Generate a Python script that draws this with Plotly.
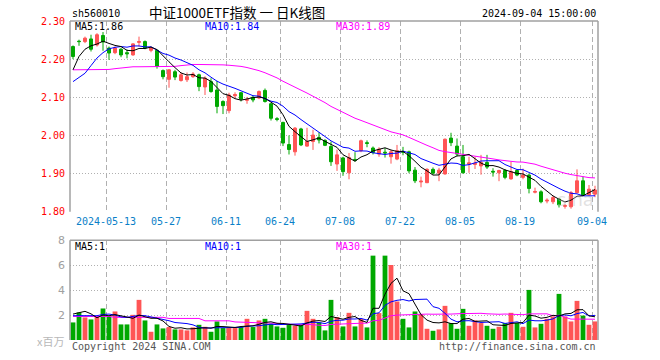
import plotly.graph_objects as go

dates = ["04-30", "05-06", "05-07", "05-08", "05-09", "05-10",
         "05-13", "05-14", "05-15", "05-16", "05-17",
         "05-20", "05-21", "05-22", "05-23", "05-24",
         "05-27", "05-28", "05-29", "05-30", "05-31",
         "06-03", "06-04", "06-05", "06-06", "06-07",
         "06-11", "06-12", "06-13", "06-14",
         "06-17", "06-18", "06-19", "06-20", "06-21",
         "06-24", "06-25", "06-26", "06-27", "06-28",
         "07-01", "07-02", "07-03", "07-04", "07-05",
         "07-08", "07-09", "07-10", "07-11", "07-12",
         "07-15", "07-16", "07-17", "07-18", "07-19",
         "07-22", "07-23", "07-24", "07-25", "07-26",
         "07-29", "07-30", "07-31", "08-01", "08-02",
         "08-05", "08-06", "08-07", "08-08", "08-09",
         "08-12", "08-13", "08-14", "08-15", "08-16",
         "08-19", "08-20", "08-21", "08-22", "08-23",
         "08-26", "08-27", "08-28", "08-29", "08-30",
         "09-02", "09-03", "09-04"]

opens = [2.233, 2.247, 2.246, 2.253, 2.237, 2.262, 2.229, 2.217, 2.226, 2.217,
         2.211, 2.244, 2.246, 2.223, 2.223, 2.170, 2.147, 2.167, 2.144, 2.146,
         2.154, 2.159, 2.127, 2.141, 2.119, 2.089, 2.065, 2.104, 2.112, 2.092,
         2.100, 2.098, 2.118, 2.083, 2.044, 2.034, 1.976, 1.957, 2.017, 1.972,
         1.984, 1.995, 1.987, 1.971, 1.925, 1.941, 1.902, 1.937, 1.960, 1.981,
         1.967, 1.951, 1.956, 1.944, 1.938, 1.958, 1.957, 1.909, 1.878, 1.876,
         1.911, 1.901, 1.899, 1.993, 1.972, 1.944, 1.925, 1.924, 1.920, 1.929,
         1.906, 1.902, 1.908, 1.886, 1.908, 1.890, 1.896, 1.851, 1.852, 1.828,
         1.826, 1.833, 1.814, 1.813, 1.850, 1.881, 1.844, 1.846]
highs = [2.236, 2.251, 2.259, 2.264, 2.268, 2.271, 2.233, 2.233, 2.229, 2.225,
         2.242, 2.259, 2.249, 2.233, 2.226, 2.173, 2.174, 2.172, 2.165, 2.165,
         2.166, 2.162, 2.155, 2.150, 2.143, 2.092, 2.112, 2.113, 2.114, 2.101,
         2.104, 2.118, 2.123, 2.085, 2.048, 2.036, 2.000, 2.022, 2.020, 2.020,
         2.015, 2.008, 1.990, 1.984, 1.963, 1.944, 1.954, 1.956, 1.989, 1.987,
         1.971, 1.969, 1.967, 1.962, 1.975, 1.970, 1.960, 1.917, 1.892, 1.914,
         1.916, 1.915, 1.992, 2.007, 1.992, 1.975, 1.944, 1.944, 1.949, 1.949,
         1.914, 1.910, 1.912, 1.931, 1.911, 1.913, 1.900, 1.863, 1.856, 1.835,
         1.842, 1.836, 1.820, 1.854, 1.911, 1.892, 1.870, 1.868]
lows = [2.200, 2.235, 2.242, 2.220, 2.233, 2.222, 2.198, 2.213, 2.205, 2.202,
        2.209, 2.233, 2.226, 2.218, 2.175, 2.147, 2.125, 2.145, 2.141, 2.140,
        2.151, 2.116, 2.106, 2.112, 2.058, 2.056, 2.058, 2.097, 2.089, 2.083,
        2.087, 2.095, 2.086, 2.039, 2.037, 1.972, 1.950, 1.947, 1.972, 1.970,
        1.962, 1.979, 1.972, 1.920, 1.907, 1.894, 1.885, 1.931, 1.956, 1.969,
        1.950, 1.944, 1.942, 1.926, 1.935, 1.948, 1.901, 1.875, 1.864, 1.875,
        1.897, 1.880, 1.897, 1.972, 1.945, 1.900, 1.902, 1.912, 1.897, 1.912,
        1.892, 1.880, 1.885, 1.884, 1.893, 1.885, 1.848, 1.848, 1.822, 1.822,
        1.820, 1.811, 1.808, 1.808, 1.848, 1.842, 1.842, 1.838]
closes = [2.207, 2.246, 2.255, 2.226, 2.264, 2.245, 2.216, 2.229, 2.211, 2.214,
          2.240, 2.246, 2.229, 2.229, 2.181, 2.154, 2.172, 2.153, 2.159, 2.154,
          2.161, 2.128, 2.150, 2.115, 2.076, 2.078, 2.106, 2.107, 2.095, 2.094,
          2.093, 2.115, 2.089, 2.045, 2.042, 1.980, 1.963, 2.019, 1.975, 1.984,
          2.001, 1.988, 1.974, 1.931, 1.949, 1.905, 1.942, 1.935, 1.986, 1.979,
          1.955, 1.964, 1.954, 1.957, 1.960, 1.956, 1.907, 1.881, 1.880, 1.911,
          1.901, 1.909, 1.990, 1.981, 1.951, 1.902, 1.928, 1.927, 1.929, 1.917,
          1.904, 1.908, 1.890, 1.905, 1.896, 1.896, 1.861, 1.853, 1.826, 1.830,
          1.837, 1.818, 1.816, 1.850, 1.881, 1.844, 1.859, 1.857]
volumes = [1.41, 2.21, 1.81, 1.65, 1.84, 2.53, 1.89, 2.29, 1.25, 1.25,
           2.02, 3.22, 1.57, 0.66, 1.25, 0.93, 1.04, 0.85, 0.85, 0.77,
           1.01, 1.22, 1.06, 0.66, 1.49, 0.96, 0.96, 0.96, 1.04, 1.70,
           1.04, 1.57, 1.70, 1.30, 1.09, 0.98, 1.20, 1.14, 1.20, 2.34,
           1.70, 1.41, 0.77, 3.22, 1.84, 1.09, 2.18, 1.09, 1.68, 1.01,
           6.77, 2.16, 6.77, 6.02, 3.09, 1.70, 1.01, 2.29, 2.08, 0.90,
           0.74, 0.85, 2.74, 1.36, 0.90, 2.50, 1.14, 1.57, 1.36, 1.14,
           0.90, 1.06, 1.36, 2.18, 1.36, 1.06, 4.02, 1.01, 1.30, 1.70,
           1.89, 3.70, 1.89, 1.49, 3.14, 1.96, 1.22, 1.49]

# moving-average values before the window is full
ma5_head = [2.172, 2.207, 2.226, 2.235]
ma10_head = [2.141, 2.152, 2.163, 2.183, 2.203, 2.217, 2.227, 2.231, 2.233]
ma30_head = [2.172, 2.172, 2.172, 2.172, 2.172, 2.172, 2.173, 2.175, 2.177, 2.179,
             2.180, 2.180, 2.180, 2.180, 2.180, 2.180, 2.180, 2.181, 2.183, 2.185,
             2.186, 2.186, 2.186, 2.186, 2.185, 2.185, 2.184, 2.183, 2.181]
vma5_head = [2.08, 2.20, 2.30, 2.10]
vma10_head = [1.95, 1.95, 1.92, 1.90, 1.95, 2.05, 2.08, 2.00, 1.85]
vma30_head = [1.89, 1.89, 1.89, 1.89, 1.89, 1.89, 1.89, 1.82, 1.82, 1.82,
              1.82, 1.82, 1.82, 1.82, 1.82, 1.82, 1.73, 1.73, 1.73, 1.73,
              1.73, 1.73, 1.54, 1.54, 1.54, 1.54, 1.54, 1.45, 1.45]

date_ticks = ["2024-05-13", "05-27", "06-11", "06-24", "07-08", "07-22", "08-05", "08-19", "09-04"]
tick_dates = ["05-13", "05-27", "06-11", "06-24", "07-08", "07-22", "08-05", "08-19", "09-04"]
price_ticks = [1.80, 1.90, 2.00, 2.10, 2.20, 2.30]
vol_ticks = [2, 4, 6, 8]


def moving_avg(vals, n, head):
    out = []
    for i in range(len(vals)):
        if i < n - 1:
            out.append(head[i])
        else:
            out.append(sum(vals[i - n + 1:i + 1]) / n)
    return out


ma5 = moving_avg(closes, 5, ma5_head)
ma10 = moving_avg(closes, 10, ma10_head)
ma30 = moving_avg(closes, 30, ma30_head)
vma5 = moving_avg(volumes, 5, vma5_head)
vma10 = moving_avg(volumes, 10, vma10_head)
vma30 = moving_avg(volumes, 30, vma30_head)

RED = "#ff5555"
GREEN = "#00a800"
xs = list(range(len(dates)))
tick_pos = [dates.index(d) - 0.5 for d in tick_dates]

fig = go.Figure()

fig.add_trace(go.Candlestick(
    x=xs, open=opens, high=highs, low=lows, close=closes,
    increasing=dict(line=dict(color=RED, width=1), fillcolor=RED),
    decreasing=dict(line=dict(color=GREEN, width=1), fillcolor=GREEN),
    whiskerwidth=0, xaxis="x", yaxis="y", showlegend=False, hoverinfo="skip"))

for vals, col in [(ma30, "#ff00ff"), (ma10, "#0000ff"), (ma5, "#000000")]:
    fig.add_trace(go.Scatter(x=xs, y=vals, mode="lines", line=dict(color=col, width=1),
                             xaxis="x", yaxis="y", showlegend=False, hoverinfo="skip"))

bar_colors = [RED if c >= o else GREEN for o, c in zip(opens, closes)]
fig.add_trace(go.Bar(x=xs, y=volumes, marker=dict(color=bar_colors, line=dict(width=0)),
                     width=0.8, xaxis="x2", yaxis="y2", showlegend=False, hoverinfo="skip"))
for vals, col in [(vma30, "#ff00ff"), (vma10, "#0000ff"), (vma5, "#000000")]:
    fig.add_trace(go.Scatter(x=xs, y=vals, mode="lines", line=dict(color=col, width=1),
                             xaxis="x2", yaxis="y2", showlegend=False, hoverinfo="skip"))

MAIN_DOM = [0.4022, 1.0]
VOL_DOM = [0.0, 0.3125]
GRID = "#b0b0b0"
BORDER = "#a0a0a0"
MONO = "DejaVu Sans Mono"

xcommon = dict(range=[-0.5, 87.5], tickvals=tick_pos, showgrid=True, gridcolor=GRID,
               griddash="5px,3px", gridwidth=1, zeroline=False, showline=False,
               ticks="", fixedrange=True, automargin=False)

fig.update_layout(
    template="none",
    width=660, height=360,
    margin=dict(l=70, r=62, t=21, b=20, autoexpand=False),
    paper_bgcolor="white", plot_bgcolor="white",
    boxgap=0.3,
    bargap=0.2,
    xaxis=dict(domain=[0, 1], anchor="y", ticktext=date_ticks, showticklabels=True,
               tickfont=dict(family=MONO, size=10, color="#0a7fc8"),
               rangeslider=dict(visible=False), ticklabelstandoff=2, **xcommon),
    xaxis2=dict(domain=[0, 1], anchor="y2", showticklabels=False, matches="x", **xcommon),
    yaxis=dict(domain=MAIN_DOM, range=[1.80, 2.30], tickvals=price_ticks, tickformat=".2f",
               tickfont=dict(family=MONO, size=10, color="#ff0000"),
               showgrid=True, gridcolor=GRID, griddash="1px,2px", zeroline=False,
               showline=False, ticks="", ticklabelstandoff=4, fixedrange=True,
               automargin=False),
    yaxis2=dict(domain=VOL_DOM, range=[0, 8], tickvals=vol_ticks,
                tickfont=dict(family="DejaVu Sans", size=11, color="#a0a0a0"),
                showgrid=True, gridcolor=GRID, griddash="1px,2px", zeroline=False,
                showline=False, ticks="", ticklabelstandoff=4, fixedrange=True,
                automargin=False),
)

shapes = []
for dom in (MAIN_DOM, VOL_DOM):
    shapes.append(dict(type="line", xref="paper", yref="paper", x0=0, x1=0, y0=dom[0], y1=dom[1],
                       line=dict(color=BORDER, width=1.5)))
    shapes.append(dict(type="line", xref="paper", yref="paper", x0=1, x1=1, y0=dom[0], y1=dom[1],
                       line=dict(color=BORDER, width=1.5)))
    shapes.append(dict(type="line", xref="paper", yref="paper", x0=0, x1=1, y0=dom[1], y1=dom[1],
                       line=dict(color=BORDER, width=1.5)))
fig.update_layout(shapes=shapes)


def px_x(p):
    return (p - 70) / 528.0


def px_y(p):
    return (340 - p) / 319.0


def label(text, x, y, color, size=10, family=MONO, xanchor="left"):
    fig.add_annotation(text=text, x=px_x(x), y=px_y(y), xref="paper", yref="paper",
                       showarrow=False, xanchor=xanchor, yanchor="middle",
                       font=dict(family=family, size=size, color=color))


label("sh560010", 70, 13, "#000000")
label("中证1000ETF指数 一 日K线图", 237, 11.5, "#000000", size=13.5,
      family="Noto Sans CJK SC", xanchor="center")
label("2024-09-04 15:00:00", 598, 13, "#000000", xanchor="right")
label("MA5:%.2f" % ma5[-1], 73, 26.5, "#000000")
label("MA10:%.2f" % ma10[-1], 203, 26.5, "#0000ff")
label("MA30:%.2f" % ma30[-1], 334, 26.5, "#ff00ff")
label("MA5:%d" % int(vma5[-1]), 73, 246.5, "#000000")
label("MA10:%d" % int(vma10[-1]), 203, 246.5, "#0000ff")
label("MA30:%d" % int(vma30[-1]), 334, 246.5, "#ff00ff")
label("x百万", 66, 341, "#b8b8b8", size=11, family="Noto Sans CJK SC", xanchor="right")
label("Copyright 2024 SINA.COM", 70, 346, "#555555")
label("http://finance.sina.com.cn", 598, 346, "#555555", xanchor="right")
label("sina", 596, 200, "rgba(190,190,190,0.45)", size=18,
      family="DejaVu Sans", xanchor="right")

fig.write_html("out.html",
               config={"displayModeBar": False, "staticPlot": True},
               post_script="document.body.style.margin='0';document.body.style.padding='0';")
